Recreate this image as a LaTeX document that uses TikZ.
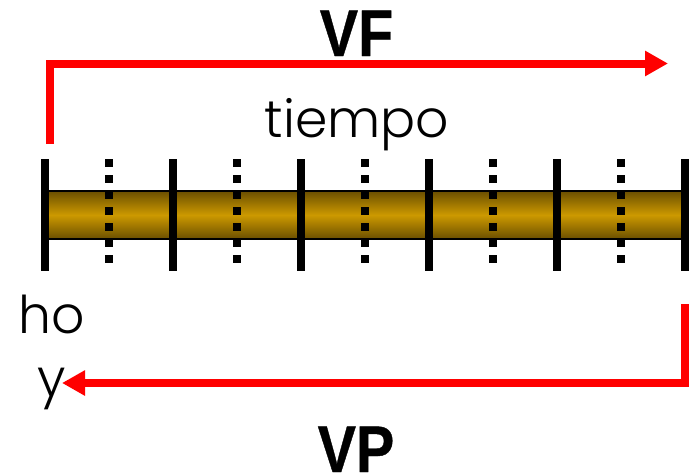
\documentclass[tikz,border=0pt]{standalone}
\usepackage{fontspec}
\usetikzlibrary{arrows.meta}
\newfontfamily\lightfont{Poppins Light}
\newfontfamily\boldfont[FakeBold=0.6]{Liberation Sans Bold}
\definecolor{golddark}{HTML}{6B4F00}
\definecolor{goldmid}{HTML}{CC9900}
\begin{document}
\begin{tikzpicture}[x=1pt,y=-1pt,
  barbox/.style={draw=black,line width=2pt,minimum width=640pt,minimum height=48pt,inner sep=0pt,outer sep=0pt,top color=golddark,bottom color=golddark,middle color=goldmid},
  solidtick/.style={draw=black,line width=8pt},
  dottick/.style={draw=black,line width=8pt,dash pattern=on 8pt off 8pt},
  redarrow/.style={draw=red,line width=8pt,-{Triangle[length=23pt,width=24pt]}},
  titlelabel/.style={font=\boldfont\fontsize{66}{66}\selectfont,anchor=base,inner sep=0pt,xscale=.87},
  lightlabel/.style={font=\lightfont\fontsize{52}{52}\selectfont,anchor=base,inner sep=0pt}]
\useasboundingbox (0,0) rectangle (692,474);
\node[barbox] (bar) at (365,215) {};
\foreach \n/\x in {a/45,b/173,c/301,d/429,e/557,f/685}{
  \coordinate (\n t) at (\x,159);
  \coordinate (\n b) at (\x,271);
  \draw[solidtick] (\n t) -- (\n b);
}
\foreach \n/\x in {p/109,q/237,r/365,s/493,u/621}{
  \coordinate (\n t) at (\x,159);
  \coordinate (\n b) at (\x,267);
  \draw[dottick] (\n t) -- (\n b);
}
\node[titlelabel] (vf) at (356.5,56) {VF};
\node[titlelabel] (vp) at (356,472) {VP};
\node[lightlabel] (tiempo) at (357,137) {tiempo};
\node[lightlabel,align=center,font=\lightfont\fontsize{52}{63}\selectfont] (hoy) at (51.5,396) {ho\\y};
\coordinate (topstart) at (50,144);
\coordinate (topcorner) at (50,63.5);
\coordinate (topend) at (668,63.5);
\coordinate (botstart) at (685,304);
\coordinate (botcorner) at (685,383);
\coordinate (botend) at (62,383);
\draw[redarrow] (topstart) -- (topcorner) -- (topend);
\draw[redarrow] (botstart) -- (botcorner) -- (botend);
\end{tikzpicture}
\end{document}
